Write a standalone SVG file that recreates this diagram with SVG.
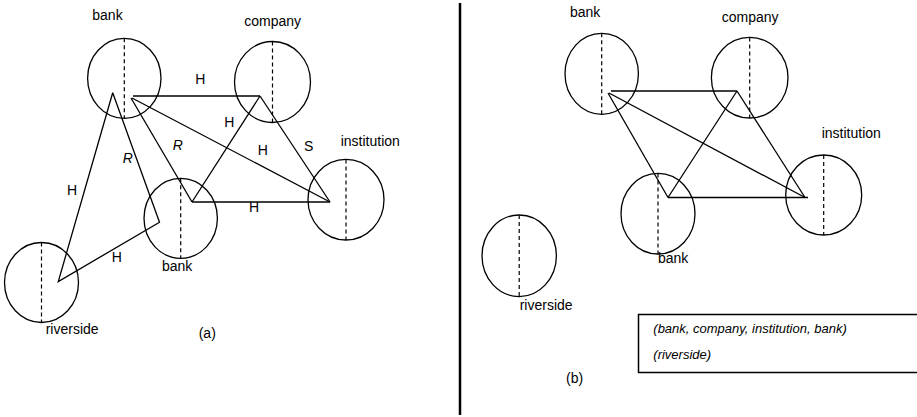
<svg xmlns="http://www.w3.org/2000/svg" width="917" height="417" viewBox="0 0 917 417">
<style>
.c{fill:none;stroke:#000;stroke-width:1.3}
.d{stroke:#000;stroke-width:1.2;stroke-dasharray:4,3}
.e{fill:none;stroke:#000;stroke-width:1.3}
text{font-family:"Liberation Sans",Arial,sans-serif;font-size:14px;fill:#000}
.i{font-style:italic}
.b{font-size:13px;font-style:italic}
</style>
<rect width="917" height="417" fill="#fff"/>
<line x1="460" y1="3" x2="460" y2="415" stroke="#000" stroke-width="2.5"/>
<g id="connectors">
<line class="e" x1="133" y1="96" x2="260" y2="96"/>
<line class="e" x1="131" y1="98" x2="192" y2="202"/>
<line class="e" x1="132" y1="98" x2="330" y2="202"/>
<line class="e" x1="260" y1="96" x2="192" y2="202"/>
<line class="e" x1="260" y1="96" x2="330" y2="202"/>
<line class="e" x1="192" y1="202" x2="330" y2="202"/>
<polyline class="e" points="112.7,92.7 159.5,222.3 58.3,281.5 112.7,92.7"/>
<line class="e" x1="611" y1="91" x2="737" y2="91"/>
<line class="e" x1="608" y1="93" x2="668" y2="197.5"/>
<line class="e" x1="609" y1="93" x2="805" y2="197.5"/>
<line class="e" x1="737" y1="91" x2="668" y2="197.5"/>
<line class="e" x1="737" y1="91" x2="805" y2="197.5"/>
<line class="e" x1="668" y1="197.5" x2="808" y2="197.5"/>
</g>
<g id="a-bank1"><ellipse class="c" cx="124.3" cy="78.3" rx="36.7" ry="40"/><line class="d" x1="124.3" y1="38.3" x2="124.3" y2="118.3"/><text x="92.3" y="20">bank</text></g>
<g id="a-company"><ellipse class="c" cx="272.5" cy="82" rx="38" ry="40.5"/><line class="d" x1="272.5" y1="41.5" x2="272.5" y2="122.5"/><text x="244.3" y="26">company</text></g>
<g id="a-institution"><ellipse class="c" cx="346" cy="199.7" rx="38" ry="40.3"/><line class="d" x1="346" y1="159.4" x2="346" y2="240"/><text x="340.7" y="146">institution</text></g>
<g id="a-bank2"><ellipse class="c" cx="180.7" cy="218.3" rx="36.7" ry="40"/><line class="d" x1="180.7" y1="178.3" x2="180.7" y2="258.3"/><text x="162" y="270.7">bank</text></g>
<g id="a-riverside"><ellipse class="c" cx="41.5" cy="282.5" rx="37" ry="40"/><line class="d" x1="41.5" y1="242.5" x2="41.5" y2="322.5"/><text x="45.7" y="334.3">riverside</text></g>
<g id="a-labels">
<text x="195.3" y="84">H</text>
<text x="224.3" y="127">H</text>
<text x="257.7" y="155">H</text>
<text x="304" y="150.7">S</text>
<text x="67" y="195.3">H</text>
<text x="249" y="212.3">H</text>
<text x="111.7" y="261.7">H</text>
<text class="i" x="122.7" y="163">R</text>
<text class="i" x="172.7" y="149.7">R</text>
<text x="198.7" y="338">(a)</text>
</g>
<g id="b-bank1"><ellipse class="c" cx="601.7" cy="73.8" rx="36.7" ry="40.5"/><line class="d" x1="601.7" y1="33.3" x2="601.7" y2="114.3"/><text x="570" y="16.7">bank</text></g>
<g id="b-company"><ellipse class="c" cx="749.7" cy="77.7" rx="38.3" ry="40.3"/><line class="d" x1="749.7" y1="37.4" x2="749.7" y2="118"/><text x="721.7" y="21.7">company</text></g>
<g id="b-institution"><ellipse class="c" cx="823.7" cy="195" rx="38" ry="40"/><line class="d" x1="823.7" y1="155" x2="823.7" y2="235"/><text x="821.7" y="137.7">institution</text></g>
<g id="b-bank2"><ellipse class="c" cx="658" cy="213.7" rx="37" ry="40.3"/><line class="d" x1="658" y1="173.4" x2="658" y2="254"/><text x="658" y="263.3">bank</text></g>
<g id="b-riverside"><ellipse class="c" cx="519.2" cy="255.8" rx="37.2" ry="40.8"/><line class="d" x1="519.2" y1="215" x2="519.2" y2="296.6"/><text x="519.7" y="310">riverside</text></g>
<g id="b-box"><rect x="638.5" y="314.5" width="285" height="58" fill="none" stroke="#000" stroke-width="1.5"/>
<text class="b" x="653.3" y="333">(bank, company, institution, bank)</text>
<text class="b" x="653.3" y="358.5">(riverside)</text></g>
<text x="566" y="383">(b)</text>
</svg>
